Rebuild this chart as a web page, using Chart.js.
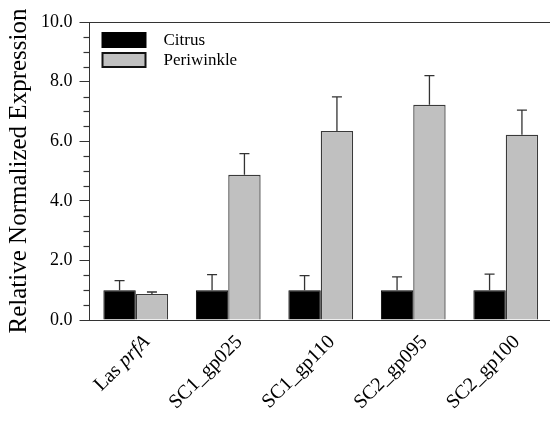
<!DOCTYPE html>
<html>
<head>
<meta charset="utf-8">
<script src="https://cdn.jsdelivr.net/npm/chart.js@4/dist/chart.umd.min.js"></script>
<style>
  html, body { margin: 0; padding: 0; background: #fff; overflow: hidden; }
  #wrap { width: 554px; height: 424px; }
</style>
</head>
<body>
<div id="wrap"><canvas id="grafikas" width="554" height="424"></canvas></div>
<script>
// duomenys
const genai = ['Las prfA', 'SC1_gp025', 'SC1_gp110', 'SC2_gp095', 'SC2_gp100'];
const citrus = [1.0, 1.0, 1.0, 1.0, 1.0];
const citrusKlaida = [0.32, 0.52, 0.49, 0.45, 0.54];
const periwinkle = [0.87, 4.87, 6.34, 7.22, 6.22];
const periwinkleKlaida = [0.07, 0.71, 1.15, 0.98, 0.82];
const yZymes = [0, 2, 4, 6, 8, 10];

const serif = '"Liberation Serif", "Times New Roman", serif';
const linija = '#333333';

// klaidu stulpeliai
const klaidos = {
  id: 'klaidos',
  afterDatasetsDraw(chart) {
    const ctx = chart.ctx;
    const y = chart.scales.y;
    const visos = [citrusKlaida, periwinkleKlaida];
    ctx.save();
    ctx.strokeStyle = linija;
    ctx.lineWidth = 1.3;
    chart.data.datasets.forEach((ds, d) => {
      const meta = chart.getDatasetMeta(d);
      meta.data.forEach((bar, i) => {
        const yTop = y.getPixelForValue(ds.data[i] + visos[d][i]);
        const yBar = y.getPixelForValue(ds.data[i]);
        ctx.beginPath();
        ctx.moveTo(bar.x, yBar);
        ctx.lineTo(bar.x, yTop);
        ctx.moveTo(bar.x - 5, yTop);
        ctx.lineTo(bar.x + 5, yTop);
        ctx.stroke();
      });
    });
    ctx.restore();
  }
};

// remelis, smulkios zymes, legenda, x pavadinimai
const piesinys = {
  id: 'piesinys',
  afterDraw(chart) {
    const ctx = chart.ctx;
    const a = chart.chartArea;
    const y = chart.scales.y;
    const x = chart.scales.x;
    ctx.save();
    ctx.strokeStyle = linija;
    ctx.lineWidth = 1;
    ctx.beginPath();
    ctx.moveTo(a.left, a.top + 0.5);
    ctx.lineTo(a.right, a.top + 0.5);
    ctx.lineTo(a.right, a.bottom);
    ctx.stroke();

    // smulkios zymes kas 0.5
    ctx.lineWidth = 1.2;
    for (let k = 1; k < 20; k++) {
      if (k % 4 === 0) continue;
      const py = Math.round(y.getPixelForValue(k * 0.5)) + 0.5;
      ctx.beginPath();
      ctx.moveTo(a.left - 6, py);
      ctx.lineTo(a.left, py);
      ctx.stroke();
    }

    // legenda
    const lx = a.left + 12;
    const ly = a.top + 10;
    ctx.fillStyle = '#000';
    ctx.fillRect(lx, ly, 45, 16);
    ctx.fillStyle = '#c0c0c0';
    ctx.fillRect(lx + 1, ly + 21, 43, 14);
    ctx.lineWidth = 2;
    ctx.strokeStyle = '#111';
    ctx.strokeRect(lx + 1, ly + 21, 43, 14);
    ctx.fillStyle = '#000';
    ctx.font = '17px ' + serif;
    ctx.textBaseline = 'middle';
    ctx.textAlign = 'left';
    ctx.fillText('Citrus', lx + 62, ly + 9);
    ctx.fillText('Periwinkle', lx + 62, ly + 29);

    // x asies pavadinimai pasukti 45 laipsniu
    genai.forEach((g, i) => {
      const cx = x.getPixelForValue(i);
      ctx.save();
      ctx.translate(cx + 11, a.bottom + 19);
      ctx.rotate(-Math.PI / 4);
      ctx.textAlign = 'right';
      ctx.textBaseline = 'middle';
      if (g === 'Las prfA') {
        ctx.font = 'italic 20px ' + serif;
        const w = ctx.measureText('prfA').width;
        ctx.fillText('prfA', 0, 0);
        ctx.font = '20px ' + serif;
        ctx.fillText('Las ', -w, 0);
      } else {
        ctx.font = '20px ' + serif;
        ctx.fillText(g, 0, 0);
      }
      ctx.restore();
    });
    ctx.restore();
  }
};

new Chart(document.getElementById('grafikas'), {
  type: 'bar',
  data: {
    labels: genai,
    datasets: [{
      label: 'Citrus',
      data: citrus,
      backgroundColor: '#000000',
      borderColor: '#000000',
      borderWidth: 1
    }, {
      label: 'Periwinkle',
      data: periwinkle,
      backgroundColor: '#c0c0c0',
      borderColor: '#3a3a3a',
      borderWidth: 1.3
    }]
  },
  options: {
    responsive: false,
    animation: false,
    layout: { padding: { left: 0, top: 22, right: 2, bottom: 96 } },
    plugins: { legend: { display: false }, tooltip: { enabled: false } },
    datasets: { bar: { categoryPercentage: 0.7, barPercentage: 1.0 } },
    scales: {
      x: {
        grid: { display: false },
        border: { color: linija, width: 1 },
        ticks: { display: false }
      },
      y: {
        min: 0,
        max: 10,
        afterBuildTicks(scale) {
          scale.ticks = yZymes.map(v => ({ value: v }));
        },
        grid: { drawOnChartArea: false, tickLength: 10, color: linija, tickColor: linija },
        border: { color: linija, width: 1 },
        ticks: {
          padding: 7,
          color: '#000',
          font: { family: serif, size: 18 },
          callback: v => v.toFixed(1)
        },
        title: {
          display: true,
          text: 'Relative Normalized Expression',
          color: '#000',
          font: { family: serif, size: 25 },
          padding: { top: 4, bottom: 0 }
        }
      }
    }
  },
  plugins: [klaidos, piesinys]
});
</script>
</body>
</html>
